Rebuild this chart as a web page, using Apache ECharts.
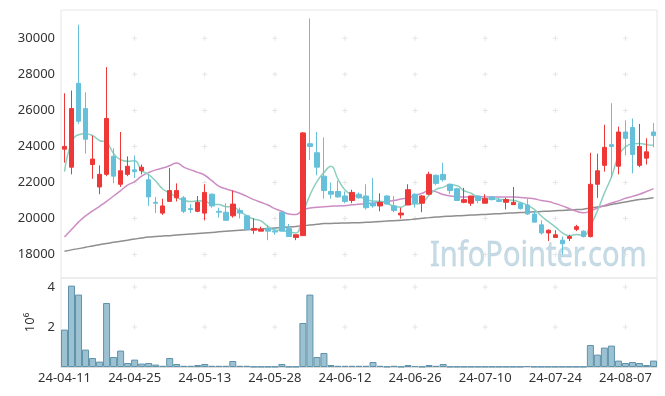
<!DOCTYPE html>
<html><head><meta charset="utf-8">
<script src="https://cdn.jsdelivr.net/npm/echarts@6/dist/echarts.min.js"></script>
<style>html,body{margin:0;padding:0;background:#fff}#c{width:665px;height:396px}</style>
</head><body><div id="c"></div>
<script>
const dates = ["24-04-11","24-04-12","24-04-15","24-04-16","24-04-17","24-04-18","24-04-19","24-04-22","24-04-23","24-04-24",
"24-04-25","24-04-26","24-04-29","24-04-30","24-05-02","24-05-03","24-05-07","24-05-08","24-05-09","24-05-10",
"24-05-13","24-05-14","24-05-16","24-05-17","24-05-20","24-05-21","24-05-22","24-05-23","24-05-24","24-05-27",
"24-05-28","24-05-29","24-05-30","24-05-31","24-06-03","24-06-04","24-06-05","24-06-07","24-06-10","24-06-11",
"24-06-12","24-06-13","24-06-14","24-06-17","24-06-18","24-06-19","24-06-20","24-06-21","24-06-24","24-06-25",
"24-06-26","24-06-27","24-06-28","24-07-01","24-07-02","24-07-03","24-07-04","24-07-05","24-07-08","24-07-09",
"24-07-10","24-07-11","24-07-12","24-07-15","24-07-16","24-07-17","24-07-18","24-07-19","24-07-22","24-07-23",
"24-07-24","24-07-25","24-07-26","24-07-29","24-07-30","24-07-31","24-08-01","24-08-02","24-08-05","24-08-06",
"24-08-07","24-08-08","24-08-09","24-08-12","24-08-13"];
const opens = [23850,22850,27500,26100,23000,21750,22450,23450,21900,22450,22700,22650,22150,20900,20300,20950,21150,21150,20550,20400,
20300,21350,20400,20350,20150,20450,20150,19350,19300,19450,19300,20350,19450,18950,19050,24150,23650,22350,21500,21500,
21250,21000,21350,21250,20850,20700,21250,20700,20200,20750,21350,20850,21350,22400,22450,21900,21650,20900,20850,21250,
20850,21200,21000,20900,20770,20850,20750,20250,19650,19200,18950,18800,18900,19400,19300,19000,21900,22950,24100,22900,
24800,25050,22950,23350,24800];
const closes = [24000,26100,25400,24400,23300,22450,25550,22350,22650,22900,22600,22850,21200,20850,20700,21550,21550,20400,20500,20900,
21450,20700,20350,19900,20800,20300,19400,19450,19400,19300,19250,19300,19000,19100,24750,24000,22850,21550,21350,21200,
20950,21450,21150,20600,20700,20900,20800,20450,20300,21600,20850,21250,22450,21950,22150,21550,21000,21050,21250,21000,
21100,21050,20950,21050,20900,20550,20250,19800,19200,19350,19100,18600,19000,19550,19000,21900,22650,23950,24000,24800,
24450,23550,24000,23700,24600];
const lows = [23100,22450,25250,23600,22200,21350,22350,21950,21750,22350,22250,22450,20700,20300,20200,20950,20950,20300,20300,20350,
19900,20600,20050,19900,20050,20000,19400,19150,19300,18800,19100,19300,19000,18800,19050,23250,22400,21100,21100,21150,
20850,20850,21100,20500,20600,20400,20800,20350,20000,20750,20600,20350,21300,21850,22050,21350,21000,20850,20700,20850,
20850,21000,20900,20500,20750,20500,20200,19800,19100,18750,18950,18000,18750,19300,18950,18950,21150,22600,22250,22450,
23500,22500,22850,23000,23950];
const highs = [26950,27100,30750,27000,24600,22950,28400,23900,24800,23450,23500,23000,22450,21200,21100,22800,21950,21250,20800,21250,
21900,21400,20600,20850,21550,20600,20200,20000,19550,19650,19500,20350,19700,19100,24800,31100,24800,24500,22000,22100,
21500,21600,21450,21900,22250,21400,21300,21250,20600,21900,21400,21300,22600,22450,23100,21950,21700,21700,21250,21300,
21350,21250,21150,21150,21750,20900,21100,20400,19900,19400,19350,19000,19100,19650,19350,23650,23600,25200,26400,25100,
25450,25550,25250,24450,25300];
const ma5 = [22600,24200,24650,24700,24600,24330,24220,23610,23260,23180,23210,22670,22440,22080,21640,21430,21170,21010,20940,20980,
20960,20790,20780,20660,20640,20410,20150,19970,19870,19570,19360,19340,19250,19190,20280,21300,22050,22550,22900,22190,
21580,21300,21220,21070,20970,20960,20830,20690,20630,20810,20800,20890,21290,21620,21730,21870,21820,21540,21400,21170,
21080,21090,21070,21030,21010,20900,20740,20510,20140,19830,19540,19210,19050,19120,19050,19610,20420,21410,22300,23460,
23970,24150,24160,24100,24060];
const ma20 = [18980,19385,19800,20150,20420,20680,20950,21250,21550,21850,22050,22350,22550,22700,22800,22930,23080,22850,22700,22560,
22400,22100,21800,21650,21530,21400,21230,21050,20900,20750,20550,20400,20250,20220,20480,20580,20620,20660,20680,20700,
20715,20760,20790,20820,20860,20900,20950,21000,21080,21150,21280,21400,21550,21480,21330,21250,21220,21200,21200,21210,
21200,21200,21200,21195,21190,21170,21140,21100,21000,20940,20830,20700,20550,20400,20320,20420,20580,20720,20860,20980,
21120,21230,21350,21500,21660];
const ma60 = [18180,18260,18330,18400,18480,18550,18610,18680,18740,18800,18860,18920,18970,19000,19030,19050,19080,19110,19140,19170,
19200,19230,19260,19290,19320,19350,19380,19400,19420,19440,19470,19500,19530,19560,19600,19640,19680,19720,19730,19740,
19750,19760,19770,19790,19810,19830,19860,19880,19900,19930,19970,20010,20050,20085,20110,20130,20150,20170,20190,20210,
20230,20250,20270,20290,20310,20330,20350,20370,20390,20410,20430,20450,20470,20500,20520,20580,20640,20700,20780,20850,
20920,20990,21050,21100,21150];
const volumes = [1.87,4.07,3.62,0.87,0.45,0.27,3.2,0.5,0.82,0.2,0.37,0.17,0.2,0.12,0.06,0.45,0.15,0.06,0.06,0.1,
0.15,0.06,0.06,0.06,0.3,0.06,0.06,0.02,0.02,0.02,0.02,0.15,0.02,0.02,2.2,3.62,0.5,0.7,0.1,0.06,
0.06,0.06,0.06,0.06,0.25,0.06,0.02,0.06,0.02,0.1,0.05,0.02,0.1,0.06,0.15,0.02,0.02,0.02,0.02,0.02,
0.02,0.02,0.02,0.02,0.02,0.02,0.05,0.02,0.02,0.02,0.02,0.02,0.02,0.02,0.02,1.1,0.62,0.97,1.07,0.32,
0.2,0.25,0.2,0.1,0.32];
const priceTicks = [18000,20000,22000,24000,26000,28000,30000];
const volumeTicks = [2,4];
const labelStep = 10;

const font = 'Noto Sans';
const kdata = dates.map((d,i)=>[opens[i],closes[i],lows[i],highs[i]]);
const tickDates = dates.filter((d,i)=>i%labelStep===0 && i>0);
const crossPath = 'path://M2,0h1v2h2v1h-2v2h-1v-2h-2v-1h2z';
const crossMain = [], crossVol = [];
tickDates.forEach(d=>{ priceTicks.forEach(v=>crossMain.push([d,v])); volumeTicks.forEach(v=>crossVol.push([d,v])); });

const chart = echarts.init(document.getElementById('c'), null, {renderer:'canvas'});
chart.setOption({
  animation:false,
  backgroundColor:'#fff',
  textStyle:{fontFamily:font},
  grid:[
    {left:61, top:10, width:596, height:268, show:true, borderColor:'#e6e6e6', borderWidth:1},
    {left:61, top:278, width:596, height:89, show:true, borderColor:'#e6e6e6', borderWidth:1}
  ],
  xAxis:[
    {type:'category', gridIndex:0, data:dates, boundaryGap:true, axisLine:{show:false}, axisTick:{show:false}, axisLabel:{show:false}, splitLine:{show:false}},
    {type:'category', gridIndex:1, data:dates, boundaryGap:true, axisLine:{show:true, lineStyle:{color:'#dcdcdc'}}, axisTick:{show:false},
     axisLabel:{interval:labelStep-1, color:'#333', fontSize:13, fontFamily:font, margin:5}, splitLine:{show:false}}
  ],
  yAxis:[
    {type:'value', gridIndex:0, min:16700, max:31570, axisLine:{show:false}, axisTick:{show:false}, splitLine:{show:false},
     axisLabel:{customValues:priceTicks, formatter:v=>String(v), color:'#333', fontSize:13, fontFamily:font, margin:6}},
    {type:'value', gridIndex:1, min:0, max:4.45, axisLine:{show:false}, axisTick:{show:false}, splitLine:{show:false},
     axisLabel:{customValues:volumeTicks, formatter:v=>String(v), color:'#333', fontSize:13, fontFamily:font, margin:6},
     name:'10\u2076', nameLocation:'middle', nameGap:17, nameRotate:90, nameTextStyle:{color:'#333', fontSize:13, fontFamily:font}}
  ],
  graphic:[{type:'text', x:430, y:239, scaleX:0.83, scaleY:1, z:-10, silent:true,
    style:{text:'InfoPointer.com', fontSize:35, fontFamily:font, fill:'rgba(160,195,212,0.6)', stroke:'rgba(160,195,212,0.35)', lineWidth:0.8}}],
  series:[
    {type:'scatter', xAxisIndex:0, yAxisIndex:0, data:crossMain, symbol:crossPath, symbolSize:5, silent:true, z:0,
     itemStyle:{color:'#dedede'}},
    {type:'scatter', xAxisIndex:1, yAxisIndex:1, data:crossVol, symbol:crossPath, symbolSize:5, silent:true, z:0,
     itemStyle:{color:'#dedede'}},
    {type:'line', xAxisIndex:0, yAxisIndex:0, data:ma60, symbol:'none', smooth:true, lineStyle:{color:'#8e8e8e', width:1.5}, z:3},
    {type:'line', xAxisIndex:0, yAxisIndex:0, data:ma20, symbol:'none', smooth:true, lineStyle:{color:'#cc8dc4', width:1.5}, z:3},
    {type:'line', xAxisIndex:0, yAxisIndex:0, data:ma5, symbol:'none', smooth:true, lineStyle:{color:'#8ccfbf', width:1.5}, z:3},
    {type:'candlestick', xAxisIndex:0, yAxisIndex:0, data:kdata, barWidth:5, z:4,
     itemStyle:{color:'#ee3838', color0:'#66c0da', borderColor:'#ee3838', borderColor0:'#66c0da', borderWidth:1}},
    {type:'bar', xAxisIndex:1, yAxisIndex:1, data:volumes, barCategoryGap:'0%', z:2,
     itemStyle:{color:'#9cc1d1', borderColor:'#5f93ab', borderWidth:1}}
  ]
});
</script></body></html>
